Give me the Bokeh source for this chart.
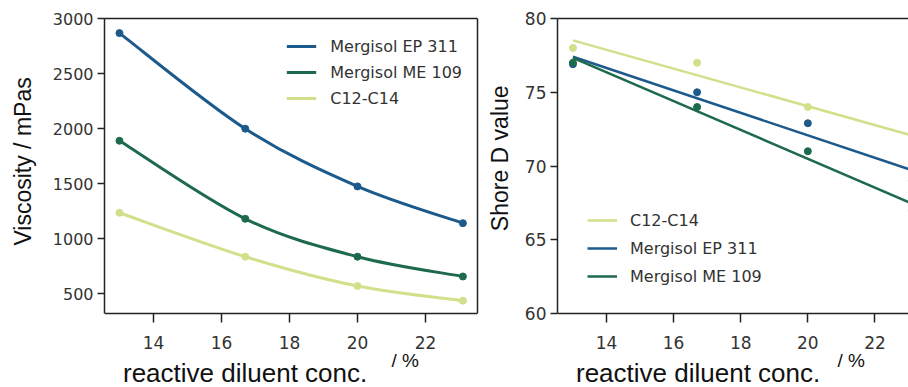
import numpy as np
from bokeh.plotting import figure
from bokeh.layouts import row
from bokeh.models import Label, FixedTicker, LinearAxis, Range1d
from bokeh.embed import file_html
from bokeh.resources import INLINE

# ---- data ----
conc = [13.0, 16.7, 20.0, 23.1]
visc_ep311 = [2870, 2000, 1475, 1140]
visc_me109 = [1890, 1180, 835, 655]
visc_c12c14 = [1235, 835, 568, 435]

shore_c12c14 = [78.0, 77.0, 74.0, 71.8]
shore_ep311 = [76.9, 75.0, 72.9, 69.0]
shore_me109 = [77.0, 74.0, 71.0, 67.0]

x_ticks = [14, 16, 18, 20, 22]
visc_ticks = [500, 1000, 1500, 2000, 2500, 3000]
shore_ticks = [60, 65, 70, 75, 80]

names_left = ["Mergisol EP 311", "Mergisol ME 109", "C12-C14"]
names_right = ["C12-C14", "Mergisol EP 311", "Mergisol ME 109"]
y_title_left = "Viscosity / mPas"
y_title_right = "Shore D value"
x_title = "reactive diluent conc."
x_unit = "/ %"

BLUE = "#1d5a8c"
GREEN = "#1e6a4c"
YELLOW = "#d3df8a"
AX = "#222222"
TICK_FONT = "DejaVu Sans"
TITLE_FONT = "Liberation Sans"
NBSP = "\u00a0"

H = 387            # canvas height
FRAME_TOP = 18     # px
AXIS_Y = 313       # px, where the x axis sits


def frame_lines(p, ybounds, right=True):
    """top (and right) border lines of the plotting box"""
    sides = ["above", "right"] if right else ["above"]
    for side in sides:
        ax = LinearAxis(ticker=FixedTicker(ticks=[]), major_label_text_font_size="0px",
                        major_tick_line_color=None, minor_tick_line_color=None,
                        major_tick_out=0, major_tick_in=0, major_label_standoff=0,
                        axis_line_color=AX, axis_line_width=1.5)
        if side == "right":
            ax.bounds = ybounds
        p.add_layout(ax, side)


def style_axes(p, ylabel, ystandoff, yfont, ybounds, yscale, xleft, xscale, unit_dx):
    p.grid.visible = False
    p.outline_line_color = None
    for ax in p.xaxis:
        ax.ticker = FixedTicker(ticks=x_ticks)
        ax.fixed_location = ybounds[0]
        ax.major_tick_out = 9
        ax.major_tick_in = 0
        ax.major_label_standoff = 13
        ax.major_label_text_font_size = "17px"
    for ax in p.yaxis:
        ax.bounds = ybounds
        ax.major_tick_out = 7
        ax.major_tick_in = 0
        ax.major_label_standoff = 4
        ax.major_label_text_font_size = yfont
        ax.axis_label = ylabel
        ax.axis_label_text_font = TITLE_FONT
        ax.axis_label_text_font_size = "23px"
        ax.axis_label_text_font_style = "normal"
        ax.axis_label_text_color = "#111111"
        ax.axis_label_standoff = ystandoff
    for ax in p.xaxis + p.yaxis:
        ax.minor_tick_line_color = None
        ax.axis_line_color = AX
        ax.axis_line_width = 1.5
        ax.major_tick_line_color = AX
        ax.major_tick_line_width = 1.5
        ax.major_label_text_font = TICK_FONT
        ax.major_label_text_color = "#333333"
    y0 = ybounds[0]
    # x axis title, placed below the axis line (offsets in px below the axis)
    p.add_layout(Label(x=xleft + 18.5 / xscale, y=y0 - 59 / yscale,
                       text=x_title, text_font=TITLE_FONT, text_font_size="26px",
                       text_color="#111111", text_baseline="alphabetic"))
    p.add_layout(Label(x=xleft + unit_dx / xscale, y=y0 - 47 / yscale,
                       text=x_unit, text_font=TITLE_FONT, text_font_size="19px",
                       text_color="#111111", text_baseline="alphabetic"))


def catmull(xs, ys):
    n = len(xs)
    d = dict(x0=[], y0=[], x1=[], y1=[], cx0=[], cy0=[], cx1=[], cy1=[])
    for i in range(n - 1):
        im = max(i - 1, 0)
        ip2 = min(i + 2, n - 1)
        d["x0"].append(xs[i]); d["y0"].append(ys[i])
        d["x1"].append(xs[i + 1]); d["y1"].append(ys[i + 1])
        d["cx0"].append(xs[i] + (xs[i + 1] - xs[im]) / 6.0)
        d["cy0"].append(ys[i] + (ys[i + 1] - ys[im]) / 6.0)
        d["cx1"].append(xs[i + 1] - (xs[ip2] - xs[i]) / 6.0)
        d["cy1"].append(ys[i + 1] - (ys[ip2] - ys[i]) / 6.0)
    return d


# ---- left: viscosity ----
L_X0, L_X1 = 12.56, 23.53
L_Y0, L_Y1 = 318.0, 3003.0
l_ys = (AXIS_Y - FRAME_TOP) / (L_Y1 - L_Y0)
l_xs = 373.0 / (L_X1 - L_X0)
l_ystart = L_Y0 - (H - AXIS_Y) / l_ys

p1 = figure(width=480, height=H, output_backend="svg", toolbar_location=None,
            x_range=Range1d(L_X0, L_X1), y_range=Range1d(l_ystart, L_Y1),
            min_border_left=104, min_border_right=3, min_border_top=FRAME_TOP,
            min_border_bottom=0)

for ys, col, name in zip([visc_ep311, visc_me109, visc_c12c14],
                         [BLUE, GREEN, YELLOW], names_left):
    p1.bezier(line_color=col, line_width=3, legend_label=name, **catmull(conc, ys))
    p1.scatter(conc, ys, size=7, color=col)

p1.yaxis.ticker = FixedTicker(ticks=visc_ticks)
# leading no-break spaces lift the title to the centre of the visible axis
style_axes(p1, NBSP * 13 + y_title_left, 14, "16px", (L_Y0, L_Y1),
           l_ys, L_X0, l_xs, 287)
frame_lines(p1, (L_Y0, L_Y1), right=True)

lg = p1.legend[0]
lg.location = "top_right"
lg.border_line_color = None
lg.background_fill_alpha = 0
lg.margin = 15
lg.padding = 0
lg.spacing = 0
lg.label_height = 26
lg.glyph_width = 30
lg.glyph_height = 26
lg.label_standoff = 14
lg.label_text_font = TICK_FONT
lg.label_text_font_size = "16px"
lg.label_text_color = "#333333"

# ---- right: Shore D ----
R_X0, R_X1 = 12.54, 23.0
R_Y0, R_Y1 = 60.0, 80.0
r_ys = (AXIS_Y - FRAME_TOP) / (R_Y1 - R_Y0)
r_xs = 351.0 / (R_X1 - R_X0)
r_ystart = R_Y0 - (H - AXIS_Y) / r_ys

p2 = figure(width=428, height=H, output_backend="svg", toolbar_location=None,
            x_range=Range1d(R_X0, R_X1), y_range=Range1d(r_ystart, R_Y1),
            min_border_left=77, min_border_right=0, min_border_top=FRAME_TOP,
            min_border_bottom=0)

for ys, col, name in zip([shore_c12c14, shore_ep311, shore_me109],
                         [YELLOW, BLUE, GREEN], names_right):
    k, b = np.polyfit(conc, ys, 1)
    xl = [min(conc), max(conc)]
    p2.line(xl, [k * v + b for v in xl], line_color=col, line_width=2.5,
            legend_label=name)
    p2.scatter(conc, ys, size=7, color=col)

p2.yaxis.ticker = FixedTicker(ticks=shore_ticks)
style_axes(p2, NBSP * 14 + y_title_right, 9, "17px", (R_Y0, R_Y1),
           r_ys, R_X0, r_xs, 280)
frame_lines(p2, (R_Y0, R_Y1), right=False)

lg2 = p2.legend[0]
lg2.location = (30, 97)
lg2.border_line_color = None
lg2.background_fill_alpha = 0
lg2.margin = 0
lg2.padding = 0
lg2.spacing = 0
lg2.label_height = 28
lg2.glyph_width = 30
lg2.glyph_height = 28
lg2.label_standoff = 13
lg2.label_text_font = TICK_FONT
lg2.label_text_font_size = "16px"
lg2.label_text_color = "#333333"

layout = row(p1, p2, spacing=0)
open("out.html", "w").write(file_html(layout, INLINE))
